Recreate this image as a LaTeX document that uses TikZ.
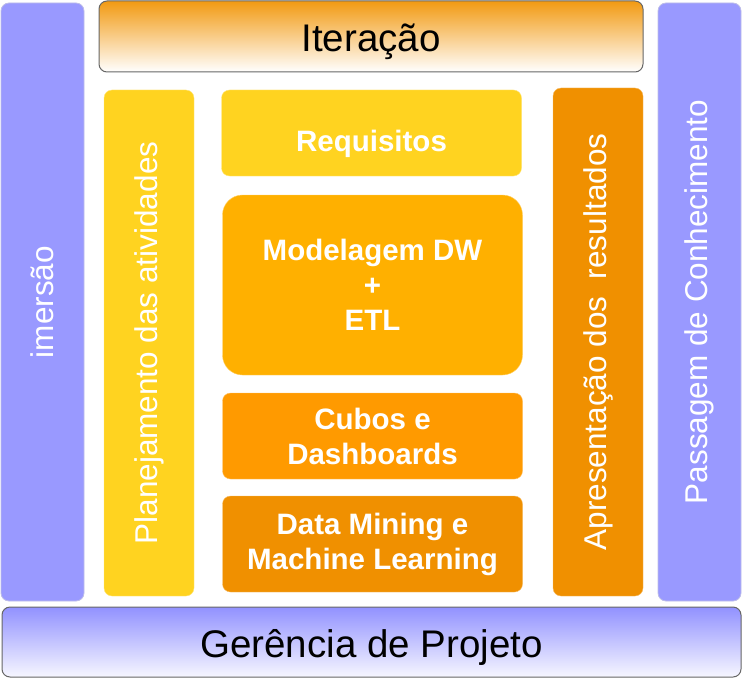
\documentclass[tikz,border=0pt]{standalone}
\usepackage{fontspec}
\setmainfont{Liberation Sans}
\usetikzlibrary{positioning}
\definecolor{fasepurple}{HTML}{9999FF}
\definecolor{faseyellow}{HTML}{FFD320}
\definecolor{faseamber}{HTML}{FFB000}
\definecolor{faseorange}{HTML}{FF9A00}
\definecolor{fasedeep}{HTML}{F09000}
\definecolor{faseiter}{HTML}{F29A12}
\definecolor{faseedge}{HTML}{666666}

\begin{document}
\begin{tikzpicture}[x=1pt,y=-1pt,
  side/.style={fill=fasepurple,draw=fasepurple!70!gray!60,line width=0.8pt,rounded corners=8pt,
    rotate=90,text=white,inner sep=0pt,font=\fontsize{31.5pt}{36pt}\selectfont},
  col/.style={rounded corners=8pt,rotate=90,text=white,inner sep=0pt,font=\fontsize{31.5pt}{36pt}\selectfont},
  task/.style={rounded corners=8pt,text=white,align=center,inner sep=0pt,
    font=\fontsize{29.5pt}{35pt}\selectfont\bfseries},
  band/.style={draw=faseedge,line width=1pt,rounded corners=8pt,inner sep=0pt,
    text height=38pt,text depth=8pt,font=\fontsize{38.5pt}{44pt}\selectfont}]
\useasboundingbox (0,0) rectangle (743,679);

% ================= OUTER FRAME =================
\node[side,minimum width=598pt,minimum height=83pt] (imersao) at (42.5,302) {imersão};
\node[side,minimum width=598pt,minimum height=83pt] (passagem) at (699.5,302) {Passagem de Conhecimento};
\node[band,top color=faseiter,bottom color=white,minimum width=544pt,minimum height=71pt] (iteracao) at (371,36.5) {Iteração};
\node[band,top color=fasepurple!95!blue,bottom color=fasepurple!8,minimum width=739pt,minimum height=70pt] (gerencia) at (371.5,642) {Gerência de Projeto};

% ================= COLUMNS =================
\node[col,fill=faseyellow,draw=faseyellow!60!white,minimum width=506pt,minimum height=90pt] (planej) at (149,343) {Planejamento das atividades};
\node[col,fill=fasedeep,draw=fasedeep!60!white,minimum width=508pt,minimum height=90pt] (apres) at (598,342) {Apresentação dos\ \ resultados};

% ================= TASKS =================
\node[task,fill=faseyellow,draw=faseyellow!60!white,minimum width=300pt,minimum height=86pt,
  text height=44pt,text depth=6pt] (requisitos) at (371.5,133) {Requisitos};
\node[task,fill=faseamber,draw=faseamber!60!white,rounded corners=20pt,minimum width=300pt,minimum height=180pt] (modelagem) at (372.5,285) {Modelagem DW\\+\\ETL};
\node[task,fill=faseorange,draw=faseorange!60!white,minimum width=300pt,minimum height=86pt] (cubos) at (372.5,436) {Cubos e\\Dashboards};
\node[task,fill=fasedeep,draw=fasedeep!60!white,minimum width=300pt,minimum height=96pt] (mining) at (372.5,544) {Data Mining e\\Machine Learning};
\end{tikzpicture}
\end{document}
